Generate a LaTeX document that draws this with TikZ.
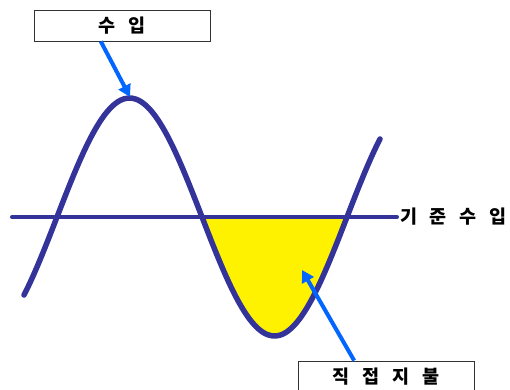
\documentclass[tikz,border=0pt]{standalone}
\usepackage{fontspec}
\newfontfamily\kr[WordSpace=3.0]{Noto Sans CJK KR}
\usepackage{xcolor}
\usetikzlibrary{arrows.meta, calc}
\definecolor{wave}{HTML}{333399}
\definecolor{pointer}{HTML}{0066FF}

\begin{document}
\begin{tikzpicture}[
    x=1pt, y=-1pt,
    box/.style={draw=black!80, line width=0.8pt, rectangle, minimum width=176pt, minimum height=31pt, inner sep=0pt, align=center, font=\kr\bfseries\fontsize{18.5pt}{18.5pt}\selectfont},
    tag/.style={anchor=west, inner sep=3pt, font=\kr\bfseries\fontsize{18.5pt}{18.5pt}\selectfont},
    arrow/.style={-{Triangle[length=12pt, width=13pt]}, pointer, line width=4pt}
]
    \useasboundingbox (0,0) rectangle (510,389);

    % Boxes and label
    \node[box] (income) at (122,25.5) {수 입};
    \node[box] (direct) at (386,376.5) {직 접 지 불};
    \node[tag] (base) at (397,217) {기 준 수 입};

    % Points on the wave
    \coordinate (start) at (12,217);
    \coordinate (peak) at (130,97);
    \coordinate (gap) at (302,270);

    % Shortfall area
    \fill[yellow] plot[domain=202:347, samples=60, smooth] (\x,{217-119*sin((\x-57)/145*180)}) -- cycle;

    % Base line and wave
    \draw[wave, line width=4pt, line cap=round] (start) -- (base.west);
    \draw[wave, line width=5.5pt, line cap=round] plot[domain=24:380, samples=90, smooth] (\x,{217-119*sin((\x-57)/145*180)});

    % Pointers
    \draw[arrow] ($(income.south west)!0.38!(income.south east)$) -- (peak);
    \draw[arrow] ($(direct.north west)!0.32!(direct.north east)$) -- (gap);
\end{tikzpicture}
\end{document}
